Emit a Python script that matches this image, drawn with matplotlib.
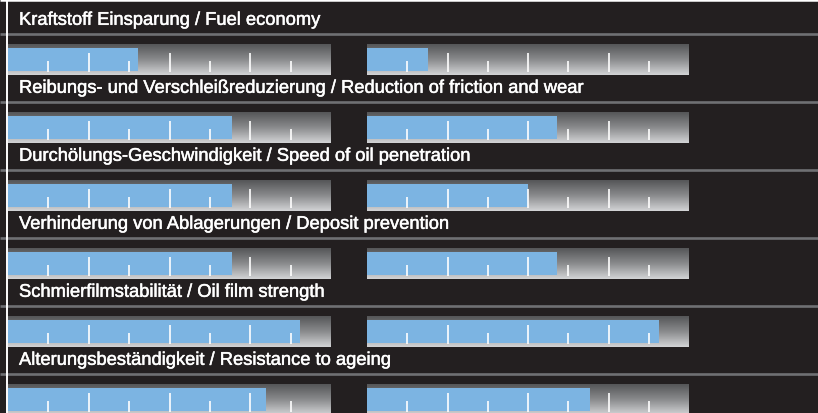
import matplotlib
matplotlib.use("Agg")
import matplotlib.pyplot as plt
import matplotlib.patheffects as pe
import numpy as np
from matplotlib.colors import LinearSegmentedColormap

# ---- data ----
categories = [
    "Kraftstoff Einsparung / Fuel economy",
    "Reibungs- und Verschleißreduzierung / Reduction of friction and wear",
    "Durchölungs-Geschwindigkeit / Speed of oil penetration",
    "Verhinderung von Ablagerungen / Deposit prevention",
    "Schmierfilmstabilität / Oil film strength",
    "Alterungsbeständigkeit / Resistance to ageing",
]
left_values = [3.22, 5.55, 5.55, 5.55, 7.23, 6.39]
right_values = [1.51, 4.71, 3.99, 4.71, 7.25, 5.55]
scale_max = 8
major_ticks = [2, 4, 6]
minor_ticks = [1, 3, 5, 7]

# ---- style ----
BG = "#231f20"
SEP = "#6f7073"
BLUE = "#7cb4e2"
W, H = 818, 414
ROW = 68

plt.rcParams["font.family"] = ["Liberation Sans", "DejaVu Sans"]
fig = plt.figure(figsize=(W / 100, H / 100), dpi=100, facecolor=BG)

bg = fig.add_axes([0, 0, 1, 1])
bg.set_xlim(0, W)
bg.set_ylim(H, 0)
bg.axis("off")
bg.set_facecolor(BG)

grad_cmap = LinearSegmentedColormap.from_list("g", ["#555658", "#8a8b8d", "#d2d3d5"])
grad = np.linspace(0, 1, 64).reshape(-1, 1)


def px_axes(x0, y0, w, h):
    return fig.add_axes([x0 / W, 1 - (y0 + h) / H, w / W, h / H])


for i, label in enumerate(categories):
    y_sep = 34.5 + ROW * i
    bg.plot([0, W], [y_sep, y_sep], color=SEP, lw=1.9, solid_capstyle="butt")
    fig.text(19 / W, 1 - (25.8 + ROW * i) / H, label, color="white",
             fontsize=13.2, va="baseline", ha="left",
             path_effects=[pe.withStroke(linewidth=0.35, foreground="white")])
    for (x0, w), val in (((8, 323), left_values[i]), ((367, 322), right_values[i])):
        ax = px_axes(x0, 45 + ROW * i, w, 31)
        ax.set_xlim(0, scale_max)
        ax.set_ylim(31, 0)
        ax.axis("off")
        ax.imshow(grad, cmap=grad_cmap, aspect="auto",
                  extent=[0, scale_max, 31, 0], interpolation="bilinear", zorder=0)
        ax.barh(15.5, val, height=23, left=0, color=BLUE, zorder=1)
        ax.vlines(major_ticks, 9.3, 28.2, color="white", lw=1.2, zorder=2)
        ax.vlines(minor_ticks, 17, 28.2, color="white", lw=1.2, zorder=2)

# frame decorations
bg.plot([0, W], [1.1, 1.1], color="white", lw=1.8, solid_capstyle="butt")
bg.plot([7, 7], [0, H], color="white", lw=1.4, solid_capstyle="butt")

fig.savefig("out.png", dpi=100, facecolor=BG)
